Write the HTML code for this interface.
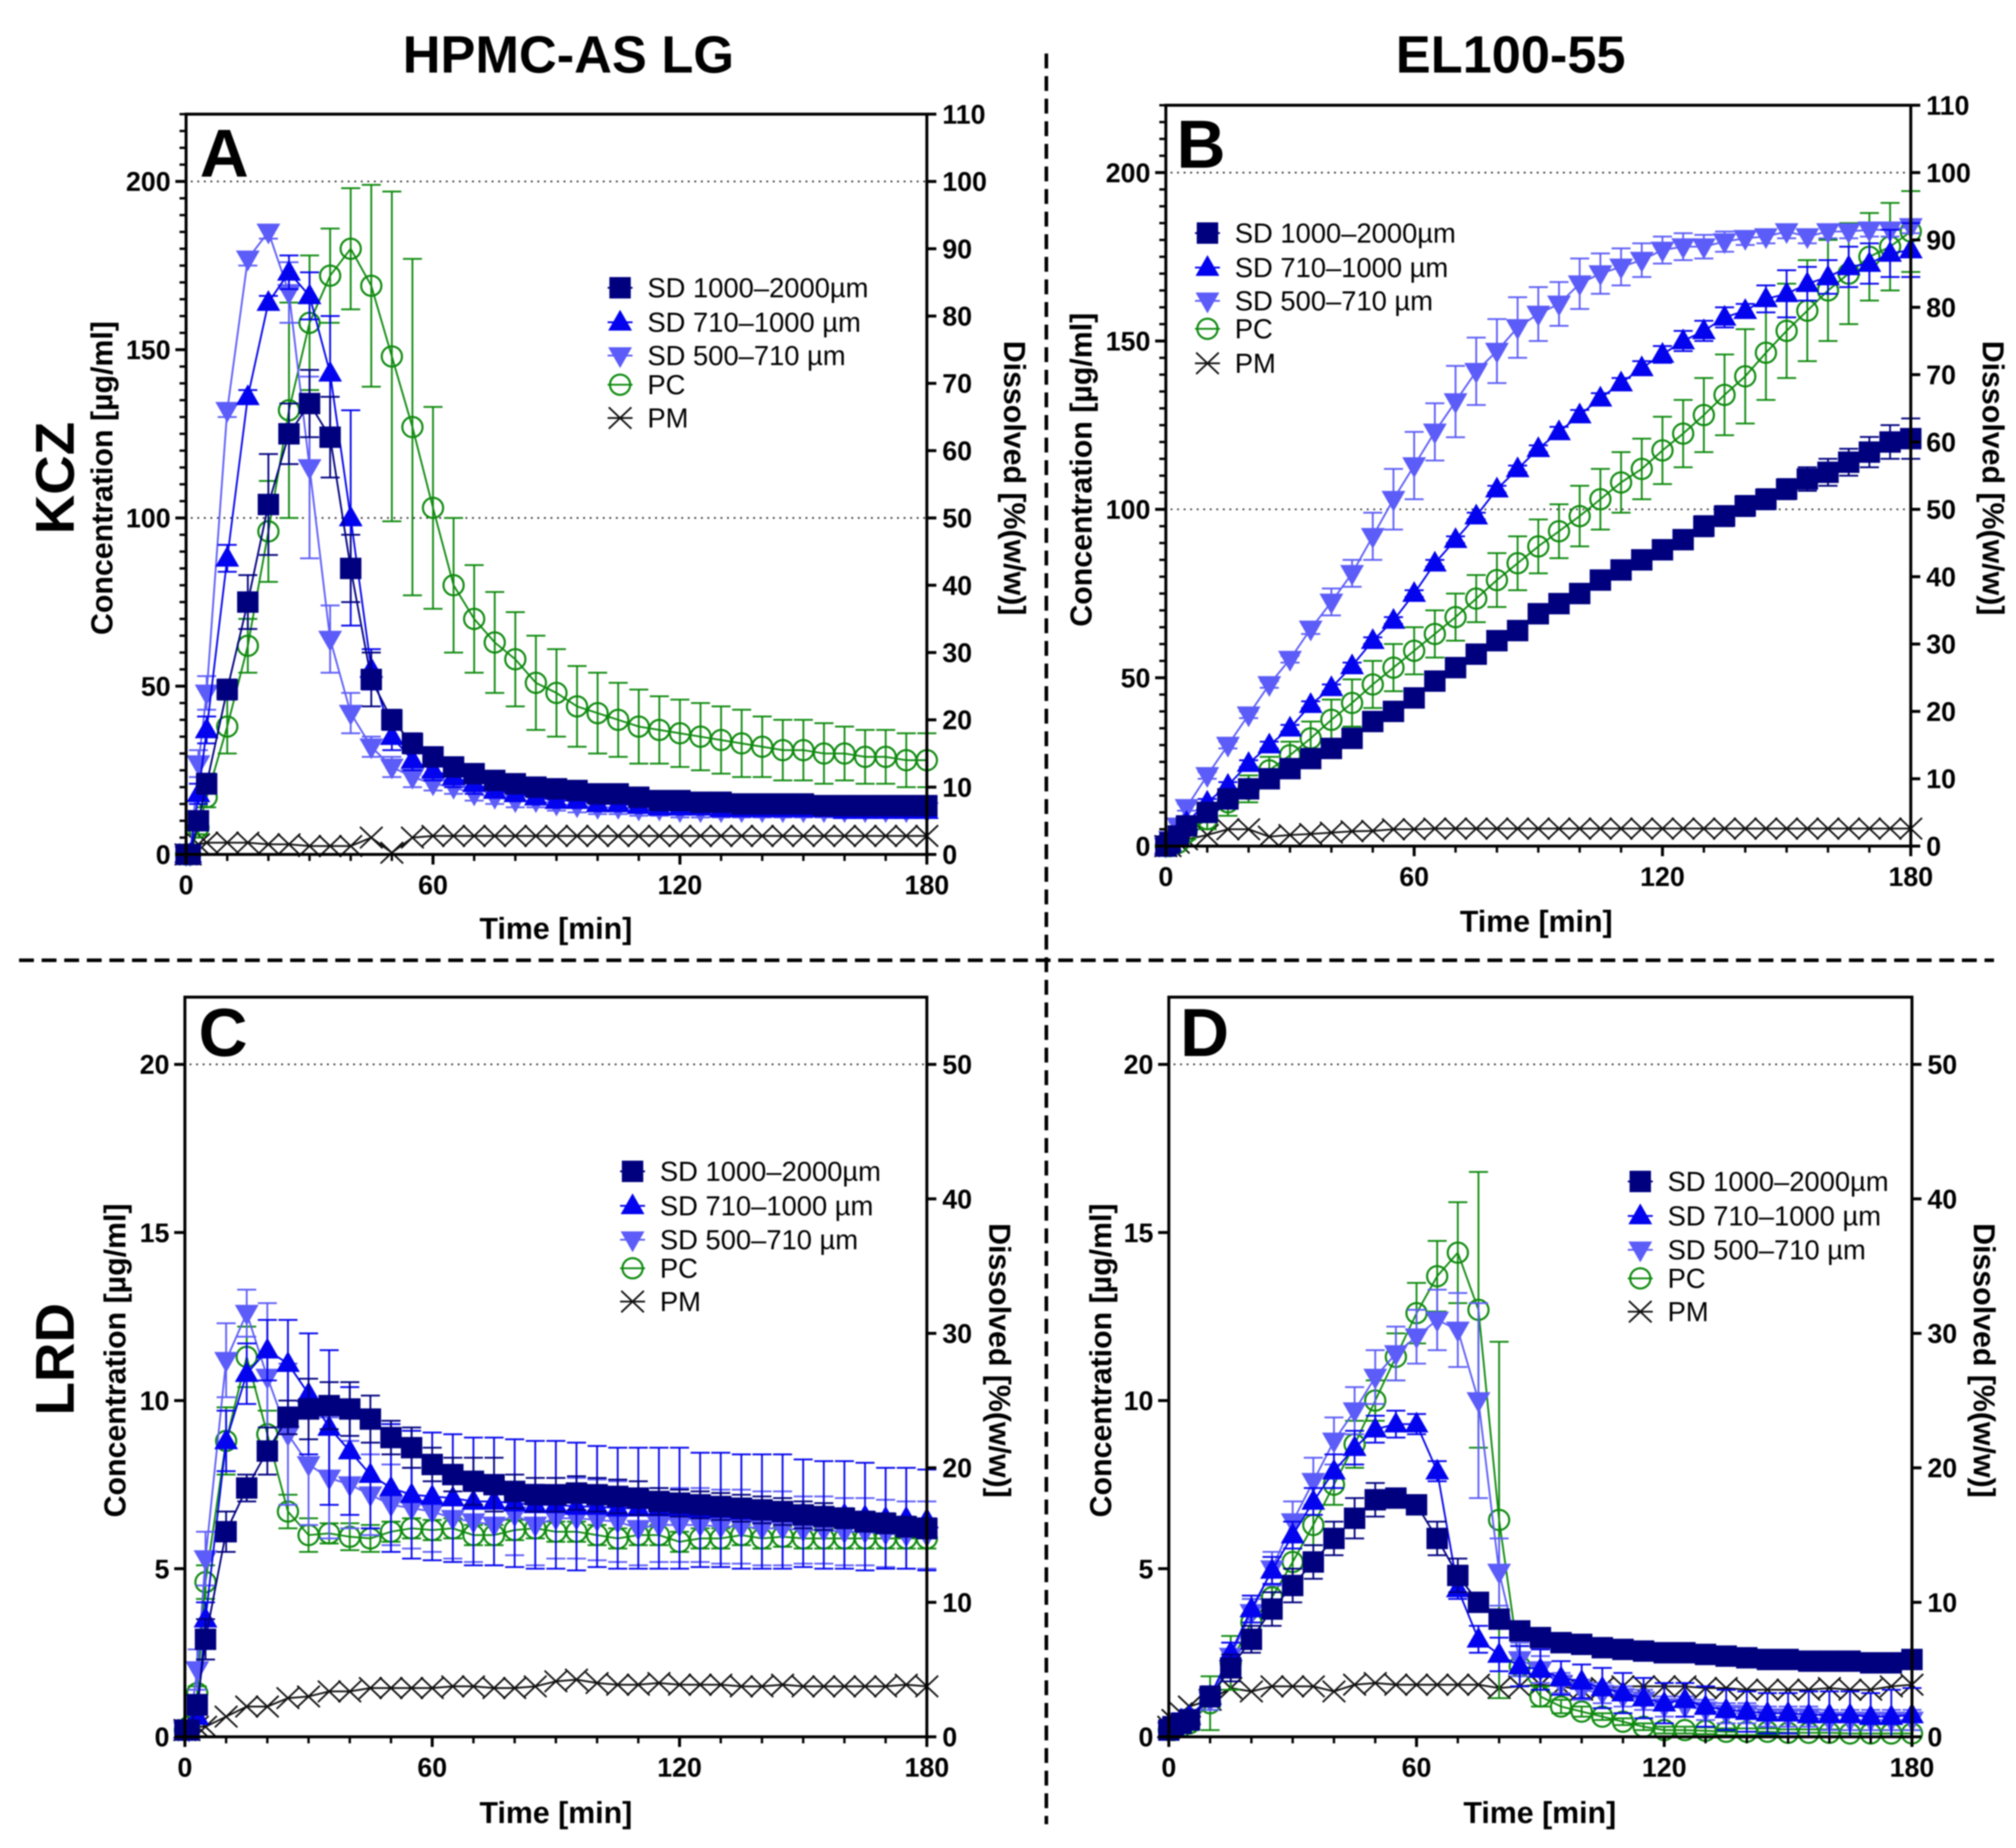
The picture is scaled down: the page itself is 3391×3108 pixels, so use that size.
<!DOCTYPE html>
<html>
<head>
<meta charset="utf-8">
<title>Dissolution profiles</title>
<style>
html,body{margin:0;padding:0;background:#fff;}
svg{display:block;filter:blur(1px);}
text{font-family:"Liberation Sans",Arial,sans-serif;fill:#000;}
</style>
</head>
<body>
<svg id="fig" xmlns="http://www.w3.org/2000/svg" width="3391" height="3108" viewBox="0 0 3391 3108">
<rect width="3391" height="3108" fill="#fff"/>
<text x="956" y="122" font-size="88" font-weight="bold" text-anchor="middle">HPMC-AS LG</text>
<text x="2541" y="122" font-size="88" font-weight="bold" text-anchor="middle">EL100-55</text>
<text transform="translate(124,804) rotate(-90)" font-size="92" font-weight="bold" text-anchor="middle">KCZ</text>
<text transform="translate(124,2286) rotate(-90)" font-size="92" font-weight="bold" text-anchor="middle">LRD</text>
<line x1="1760" y1="90" x2="1760" y2="3068" stroke="#000" stroke-width="6" stroke-dasharray="25 13"/>
<line x1="32" y1="1615" x2="3354" y2="1615" stroke="#000" stroke-width="6" stroke-dasharray="25 13"/>
</svg>
<script>
// Shared sampling times [min]
const times = [0,1,3,5, 10,15,20,25,30,35,40,45,50,55, 60,65,70,75,80,85,90,95,100,105, 110,115,120,125,130,135,140,145,150,155, 160,165,170,175,180];

// Tick labels
const xTickLabels = [0,60,120,180];
const leftTicksKCZ = [0,50,100,150,200];
const rightTicksKCZ = [0,10,20,30,40,50,60,70,80,90,100,110];
const leftTicksLRD = [0,5,10,15,20];
const rightTicksLRD = [0,10,20,30,40,50];
const legendLabels = ['SD 1000–2000µm','SD 710–1000 µm','SD 500–710 µm','PC','PM'];

// Panel A
const aNavy = [0,0,10,21, 49,75,104,125,134,124,85,52,40,33, 29,26,24,22,21,20,19.5,19,18,18, 17,16,16,15.5,15.5,15,15,15,15,14.5, 14.5,14.5,14.5,14.5,14.5];
const aNavyErr = [0,0,2,3, 3,8,15,9,10,12,10,8,3,3, 2,2,2,1.5,1.5,1.5,1.5,1,1,1, 1,1,1,1,1,1,1,1,1,1, 1,1,1,1,1];
const aBlue = [0,0,18,37, 88,136,164,173,166,143,100,55,35,28, 25,23,21,19,18,17,16,16,15,15, 14.5,14,14,14,13.5,13.5,13.5,13.5,13.5,13.5, 13,13,13,13,13];
const aBlueErr = [0,0,3,4, 4,2,2,5,7,17,32,6,4,3, 3,3,3,2,2,2,2,2,2,2, 2,2,2,2,2,2,2,2,2,2, 2,2,2,2,2];
const aLight = [0,0,27,48, 132,177,185,167,115,64,42,32,26,23, 21,20,18,17,16,16,15,14.5,14,14, 13.5,13.5,13,13,13,13,13,13,13,13, 13,13,13,13,13];
const aLightErr = [0,0,4,5, 2,2,2,9,27,10,6,3,3,3, 2,2,2,2,2,2,2,2,2,2, 2,2,2,2,2,2,2,2,2,2, 2,2,2,2,2];
const aGreen = [0,0,8,17, 38,62,96,132,158,172,180,169,148,127, 103,80,70,63,58,51,48,44,42,40, 38,37,36,35,34,33,32,31,31,30, 30,29,29,28,28];
const aGreenErr = [0,0,2,3, 8,8,15,32,20,14,18,30,49,50, 30,20,16,15,14,14,13,12,12,11, 11,10,10,10,10,10,9,9,9,9, 8,8,8,8,8];
const aBlack = [0,0,3,3.5, 3.5,3.5,3,3,2.5,2.5,2.5,5,0.5,5, 5.5,5.5,5.5,5.5,5.5,5.5,5.5,5.5,5.5,5.5, 5.5,5.5,5.5,5.5,5.5,5.5,5.5,5.5,5.5,5.5, 5.5,5.5,5.5,5.5,5.5];

// Panel B
const bNavy = [0,1,3,6, 10,14,17,20,23,26,29,32,37,40, 44,49,53,57,61,64,69,72,75,79, 82,85,88,91,95,98,101,103,106,109, 111,114,117,120,121];
const bNavyErr = [0,0,1,1, 1,1,1,1,1,1,1,1,1,1, 1,1,1,1,1,1,1,1,1.5,1.5, 2,2,2.5,2.5,3,3,3,3,3,3.5, 4,4,4.5,5,6];
const bBlue = [0,1,4,7, 13,18,24.5,30,35,42,47,53.5,61,67, 75,84,91,98,106,112,118,123,128,133, 137.5,142,146,150,153,157,159,162.5,164,167, 169,172,173,176,177];
const bBlueErr = [0,0,1,1, 1,1,1,1,1,1,1,1,1,1, 1,1,1,1,1,1,1,1.5,1.5,1.5, 1.5,2,2.5,3,3,3,2,4,7,5, 5,6,6,7,8];
const bLight = [0,2,6,11.5, 21,30,39,48,55.5,64.5,72.5,81,92,103, 113,123,132,141,147,154,158,161,167,170, 172,174,177,178,178,179.5,180.5,181,182.5,181, 182.5,182.5,183,183,184];
const bLightErr = [0,1,1,1, 1,1,1,1,1,1.5,4,4,7,9, 10,8.5,10.6,10,9.5,9,8,6.5,7.5,6, 5.5,5,4,4,3.5,3,2,2,2,2, 2,2,2,2,2];
const bGreen = [0,0,1,4, 8,13,17,22.5,27,32,37.5,42.5,48,53, 58,63,68,73.5,79,84,89,93.5,98,103, 108,112,117.5,122.5,128,134,139.5,146.5,153,159, 165,170,175,178,182.5];
const bGreenErr = [0,0,1,2, 3,4,4,4,4,5,6,7,7,7, 7,7,7,7,8,8,8,8,9,9, 9,9,10,10,11,12,14,14,14,15, 15,15,13,13,12];
const bBlack = [0,0,1,2, 3.3,5,5,2.8,3.3,3.6,4,4.4,4.5,5, 5,5.2,5.2,5.2,5.2,5.2,5.2,5.2,5.2,5.2, 5.2,5.2,5.2,5.2,5.2,5.2,5.2,5.2,5.2,5.2, 5.2,5.2,5.2,5.2,5.2];

// Panel C
const cNavy = [0.2,0.2,0.95,2.9, 6.1,7.4,8.5,9.5,9.75,9.85,9.75,9.45,8.9,8.6, 8.1,7.8,7.6,7.5,7.3,7.2,7.2,7.25,7.2,7.15, 7.1,7.0,6.95,6.9,6.85,6.8,6.75,6.7,6.6,6.55, 6.5,6.4,6.35,6.25,6.2];
const cNavyErr = [0,0,0.3,0.6, 0.6,0.4,0.7,0.5,0.9,0.7,0.8,0.7,0.5,0.6, 0.5,0.5,0.7,0.8,0.5,0.5,0.5,0.5,0.5,0.5, 0.5,0.4,0.4,0.4,0.4,0.4,0.4,0.4,0.4,0.4, 0.3,0.3,0.3,0.3,0.3];
const cBlue = [0.2,0.2,0.6,3.5, 8.8,10.8,11.5,11.1,10.2,9.2,8.5,7.8,7.4,7.2, 7.15,7.1,7.0,7.0,6.95,6.9,6.9,6.85,6.85,6.8, 6.8,6.8,6.8,6.75,6.75,6.7,6.7,6.7,6.65,6.6, 6.6,6.55,6.5,6.5,6.45];
const cBlueErr = [0,0,0.2,0.5, 0.9,0.9,0.9,1.3,1.8,2.3,1.9,1.6,1.9,1.9, 1.9,1.9,1.9,1.9,1.9,1.9,1.9,1.9,1.8,1.8, 1.8,1.8,1.8,1.7,1.7,1.7,1.7,1.7,1.6,1.6, 1.6,1.6,1.5,1.5,1.5];
const cLight = [0.2,0.2,2,5.3, 11.2,12.6,10.7,9.0,8.1,7.7,7.5,7.2,6.9,6.8, 6.7,6.5,6.4,6.3,6.6,6.3,6.5,6.5,6.45,6.4, 6.2,6.3,6.3,6.3,6.25,6.25,6.2,6.2,6.15,6.15, 6.1,6.1,6.05,6.0,6.0];
const cLightErr = [0,0,0.6,0.8, 1.1,0.7,2.2,2.1,1.8,1.8,1.3,1.2,1.2,1.2, 1.2,1.2,1.2,1.2,1.2,1.2,1.2,1.2,1.2,1.2, 1.1,1.1,1.1,1.1,1.1,1.1,1.1,1.1,1.0,1.0, 1.0,1.0,1.0,1.0,1.0];
const cGreen = [0.2,0.3,1.3,4.6, 8.8,11.3,9.0,6.7,6.0,6.05,5.95,5.9,6.1,6.2, 6.15,6.2,6.0,6.0,6.15,6.2,6.1,6.1,6.0,5.9, 6.0,6.0,5.8,5.9,5.9,6.0,5.9,5.95,5.9,5.9, 5.9,5.9,5.9,5.9,5.9];
const cGreenErr = [0,0,0.2,0.5, 1,0.9,0.7,0.5,0.5,0.3,0.4,0.4,0.3,0.3, 0.3,0.3,0.3,0.3,0.3,0.3,0.3,0.3,0.3,0.3, 0.3,0.3,0.3,0.3,0.3,0.3,0.3,0.3,0.3,0.3, 0.3,0.3,0.3,0.3,0.3];
const cBlack = [0.2,0.2,0.3,0.3, 0.6,0.9,0.9,1.15,1.2,1.35,1.35,1.45,1.45,1.45, 1.45,1.5,1.5,1.45,1.45,1.5,1.65,1.7,1.6,1.55, 1.55,1.6,1.55,1.55,1.55,1.5,1.5,1.55,1.5,1.5, 1.5,1.5,1.5,1.55,1.5];

// Panel D
const dNavy = [0.2,0.3,0.4,0.5, 1.2,2.05,2.9,3.8,4.5,5.2,5.9,6.5,7.05,7.1, 6.9,5.9,4.8,4.0,3.5,3.15,2.95,2.8,2.75,2.65, 2.6,2.55,2.5,2.5,2.45,2.4,2.35,2.3,2.3,2.25, 2.25,2.25,2.2,2.2,2.3];
const dNavyErr = [0,0,0.1,0.1, 0.3,0.4,0.4,0.5,0.5,0.5,0.5,0.6,0.5,0.2, 0.1,0.5,0.5,0.2,0.1,0.1,0.1,0.1,0.1,0.1, 0.1,0.1,0.1,0.1,0.1,0.1,0.1,0.1,0.1,0.1, 0.1,0.1,0.1,0.1,0.1];
const dBlue = [0.2,0.3,0.5,0.6, 1.2,2.5,3.8,4.95,6.0,7.0,7.9,8.6,9.15,9.3, 9.3,7.9,4.4,2.9,2.45,2.1,2.0,1.75,1.65,1.45, 1.3,1.15,1.0,1.1,0.9,0.8,0.75,0.7,0.7,0.65, 0.65,0.65,0.6,0.6,0.65];
const dBlueErr = [0,0,0.2,0.2, 0.3,0.3,0.4,0.4,0.4,0.4,0.5,0.5,0.4,0.4, 0.3,0.3,0.3,0.4,0.5,0.6,0.6,0.5,0.5,0.6, 0.6,0.6,0.6,0.5,0.6,0.6,0.6,0.6,0.6,0.7, 0.7,0.7,0.7,0.8,0.8];
const dLight = [0.2,0.3,0.4,0.5, 1.1,2.4,3.7,5.0,6.4,7.6,8.8,9.7,10.7,11.4, 11.9,12.4,12.1,10,4.9,2.3,2.0,1.6,1.4,1.3, 1.2,1.1,0.9,0.9,0.8,0.7,0.7,0.6,0.6,0.6, 0.5,0.5,0.5,0.5,0.5];
const dLightErr = [0,0,0.1,0.2, 0.3,0.4,0.4,0.5,0.6,0.7,0.7,0.7,0.8,0.8, 0.8,0.9,1.1,2.9,1.0,0.5,0.4,0.3,0.3,0.3, 0.3,0.3,0.3,0.3,0.3,0.3,0.3,0.3,0.3,0.3, 0.3,0.3,0.3,0.3,0.3];
const dGreen = [0.2,0.2,0.3,0.4, 1.0,2.2,3.4,4.15,5.2,6.3,7.5,8.7,10,11.3, 12.6,13.7,14.4,12.7,6.45,2.1,1.2,0.9,0.75,0.6, 0.45,0.3,0.2,0.2,0.18,0.15,0.15,0.15,0.12,0.12, 0.12,0.1,0.1,0.1,0.1];
const dGreenErr = [0,0,0.1,0.2, 0.8,0.8,0.7,0.6,0.6,0.6,0.6,0.7,0.6,0.7, 0.9,1.05,1.5,4.1,5.3,0.6,0.3,0.2,0.15,0.1, 0.1,0.1,0.1,0.1,0.1,0.1,0.1,0.1,0.1,0.1, 0.1,0.1,0.1,0.1,0.1];
const dBlack = [0.3,0.5,0.7,0.9, 1.1,1.45,1.35,1.5,1.5,1.5,1.35,1.55,1.6,1.55, 1.55,1.55,1.55,1.55,1.45,1.5,1.55,1.5,1.4,1.45, 1.5,1.5,1.5,1.5,1.45,1.45,1.4,1.4,1.4,1.4, 1.45,1.4,1.4,1.5,1.55];

// Layout (geometry only)
const NS = 'http://www.w3.org/2000/svg';
const svg = document.getElementById('fig');
const COLORS = {navy:'#00007f', blue:'#0303ee', light:'#5c5cf8', green:'#0e8a0e', black:'#111'};
const panels = [
  {id:'a', letter:'A', lx:336, ly:297, x0:313, x1:1559, y0:1437, yt:192, yMax:220, rMax:110, left:leftTicksKCZ, right:rightTicksKCZ, minor:5, guides:[100,200], legX:1043, legY:[484,542,598,647,703], ylX:172, ylY:804, rlX:1706, rlY:804, tX:935, tY:1579, xLab:1488,
   s:[[aBlack,null],[aGreen,aGreenErr],[aLight,aLightErr],[aBlue,aBlueErr],[aNavy,aNavyErr]]},
  {id:'b', letter:'B', lx:1979, ly:282, x0:1961, x1:3214, y0:1423, yt:177, yMax:220, rMax:110, left:leftTicksKCZ, right:rightTicksKCZ, minor:5, guides:[100,200], legX:2031, legY:[392,450,506,553,611], ylX:1819, ylY:790, rlX:3352, rlY:804, tX:2584, tY:1567, xLab:1474,
   s:[[bBlack,null],[bGreen,bGreenErr],[bLight,bLightErr],[bBlue,bBlueErr],[bNavy,bNavyErr]]},
  {id:'c', letter:'C', lx:334, ly:1776, x0:311, x1:1559, y0:2921, yt:1677, yMax:22, rMax:55, left:leftTicksLRD, right:rightTicksLRD, minor:0, guides:[20], legX:1064, legY:[1970,2028,2085,2133,2189], ylX:194, ylY:2288, rlX:1681, rlY:2288, tX:935, tY:3066, xLab:2972,
   s:[[cBlack,null],[cGreen,cGreenErr],[cLight,cLightErr],[cBlue,cBlueErr],[cNavy,cNavyErr]]},
  {id:'d', letter:'D', lx:1985, ly:1776, x0:1966, x1:3216, y0:2921, yt:1677, yMax:22, rMax:55, left:leftTicksLRD, right:rightTicksLRD, minor:0, guides:[20], legX:2759, legY:[1987,2045,2102,2150,2206], ylX:1852, ylY:2288, rlX:3337, rlY:2288, tX:2590, tY:3066, xLab:2972,
   s:[[dBlack,null],[dGreen,dGreenErr],[dLight,dLightErr],[dBlue,dBlueErr],[dNavy,dNavyErr]]}
];
const seriesKeys = ['pm','pc','sd-500-710','sd-710-1000','sd-1000-2000'];
const seriesColors = [COLORS.black, COLORS.green, COLORS.light, COLORS.blue, COLORS.navy];
const seriesShapes = ['x','circle','down','up','square'];

function mk(tag, parent, attrs, txt){
  const el = document.createElementNS(NS, tag);
  for (const k in attrs) el.setAttribute(k, attrs[k]);
  if (txt !== undefined) el.textContent = txt;
  parent.appendChild(el);
  return el;
}
function drawMarker(g, shape, cx, cy, color){
  let el;
  if (shape === 'square') {
    el = mk('rect', g, {x:cx-18, y:cy-18, width:36, height:36, fill:color});
    
    
  } else if (shape === 'up') {
    el = mk('polygon', g, {points:[cx,cy-21, cx+20,cy+14, cx-20,cy+14].join(','), fill:color});
    
    
  } else if (shape === 'down') {
    el = mk('polygon', g, {points:[cx,cy+21, cx+20,cy-14, cx-20,cy-14].join(','), fill:color});
    
    
  } else if (shape === 'circle') {
    el = mk('circle', g, {cx:cx, cy:cy, r:17, fill:'none', stroke:color, 'stroke-width':3.5});
    
    
  } else {
    el = mk('path', g, {d:`M${cx-19} ${cy-18}L${cx+19} ${cy+18}M${cx-19} ${cy+18}L${cx+19} ${cy-18}`, fill:'none', stroke:color, 'stroke-width':3});
    
    
  }
}

panels.forEach(p => {
  const xScale = t => p.x0 + t * (p.x1 - p.x0) / 180;
  const yScale = v => p.y0 - v * (p.y0 - p.yt) / p.yMax;
  const rScale = v => p.y0 - v * (p.y0 - p.yt) / p.rMax;

  const g = mk('g', svg, {});
  
  

  // guide lines
  p.guides.forEach(v => {
    const gl = mk('line', g, {x1:p.x0 + 8, x2:p.x1, y1:yScale(v), y2:yScale(v), stroke:'#222', 'stroke-width':2.6, 'stroke-dasharray':'3 8'});
    
    
  });

  // series
  seriesKeys.forEach((key, si) => {
    const vals = p.s[si][0], errs = p.s[si][1], color = seriesColors[si];
    const sg = mk('g', g, {});
    
    
    if (errs) {
      times.forEach((t, i) => {
        if (!errs[i]) return;
        const x = xScale(t), hi = yScale(vals[i] + errs[i]), lo = yScale(Math.max(vals[i] - errs[i], 0));
        const eb = mk('path', sg, {d:`M${x} ${hi}L${x} ${lo}M${x-16} ${hi}L${x+16} ${hi}M${x-16} ${lo}L${x+16} ${lo}`, fill:'none', stroke:color, 'stroke-width':3});
        
        
      });
    }
    const ln = mk('polyline', sg, {points:times.map((t, i) => xScale(t) + ',' + yScale(vals[i])).join(' '), fill:'none', stroke:color, 'stroke-width':3});
    
    
    times.forEach((t, i) => drawMarker(sg, seriesShapes[si], xScale(t), yScale(vals[i]), color));
  });

  // frame and axes
  const ag = mk('g', g, {});
  
  
  const frame = mk('rect', ag, {x:p.x0, y:p.yt, width:p.x1 - p.x0, height:p.y0 - p.yt, fill:'none', stroke:'#000', 'stroke-width':5});
  
  

  // x ticks every 10 min; major at labels
  for (let t = 0; t <= 180; t += 10) {
    const major = xTickLabels.includes(t);
    const tk = mk('line', ag, {x1:xScale(t), x2:xScale(t), y1:p.y0, y2:p.y0 + (major ? 17 : 11), stroke:'#000', 'stroke-width':major ? 5 : 4});
    
    
  }
  xTickLabels.forEach(t => {
    const lb = mk('text', ag, {x:xScale(t), y:p.xLab + 16, 'font-size':45, 'font-weight':'bold', 'text-anchor':'middle'}, t);
    
    
  });

  // left ticks
  if (p.minor) {
    for (let v = 0; v <= p.yMax; v += p.minor) {
      if (v % 50 === 0) continue;
      const mt = mk('line', ag, {x1:p.x0 - 11, x2:p.x0, y1:yScale(v), y2:yScale(v), stroke:'#000', 'stroke-width':4});
      
      
    }
  }
  p.left.forEach(v => {
    const mt = mk('line', ag, {x1:p.x0 - 18, x2:p.x0, y1:yScale(v), y2:yScale(v), stroke:'#000', 'stroke-width':5});
    
    
    const lb = mk('text', ag, {x:p.x0 - 26, y:yScale(v) + 16, 'font-size':45, 'font-weight':'bold', 'text-anchor':'end'}, v);
    
    
  });

  // right ticks
  p.right.forEach(v => {
    const mt = mk('line', ag, {x1:p.x1, x2:p.x1 + 16, y1:rScale(v), y2:rScale(v), stroke:'#000', 'stroke-width':5});
    
    
    const lb = mk('text', ag, {x:p.x1 + 26, y:rScale(v) + 16, 'font-size':45, 'font-weight':'bold', 'text-anchor':'start'}, v);
    
    
  });

  // axis titles
  const yl = mk('text', ag, {transform:`translate(${p.ylX + 17},${p.ylY}) rotate(-90)`, 'font-size':51, 'font-weight':'bold', 'text-anchor':'middle'}, 'Concentration [µg/ml]');
  
  
  const rl = mk('text', ag, {transform:`translate(${p.rlX - 17},${p.rlY}) rotate(90)`, 'font-size':51, 'font-weight':'bold', 'text-anchor':'middle'}, 'Dissolved [%(w/w)]');
  
  
  const xl = mk('text', ag, {x:p.tX, y:p.tY, 'font-size':51, 'font-weight':'bold', 'text-anchor':'middle'}, 'Time [min]');
  
  

  // panel letter
  const pl = mk('text', g, {x:p.lx, y:p.ly, 'font-size':114, 'font-weight':'bold'}, p.letter);
  
  

  // legend
  const lg = mk('g', g, {});
  
  
  legendLabels.forEach((label, i) => {
    const si = 4 - i, y = p.legY[i];
    const en = mk('g', lg, {});
    
    
    const ll = mk('line', en, {x1:p.legX - 21, x2:p.legX + 21, y1:y, y2:y, stroke:seriesColors[si], 'stroke-width':3});
    
    
    drawMarker(en, seriesShapes[si], p.legX, y, seriesColors[si]);
    const tx = mk('text', en, {x:p.legX + 46, y:y + 16, 'font-size':46}, label);
    
    
  });
});
</script>
</body>
</html>
